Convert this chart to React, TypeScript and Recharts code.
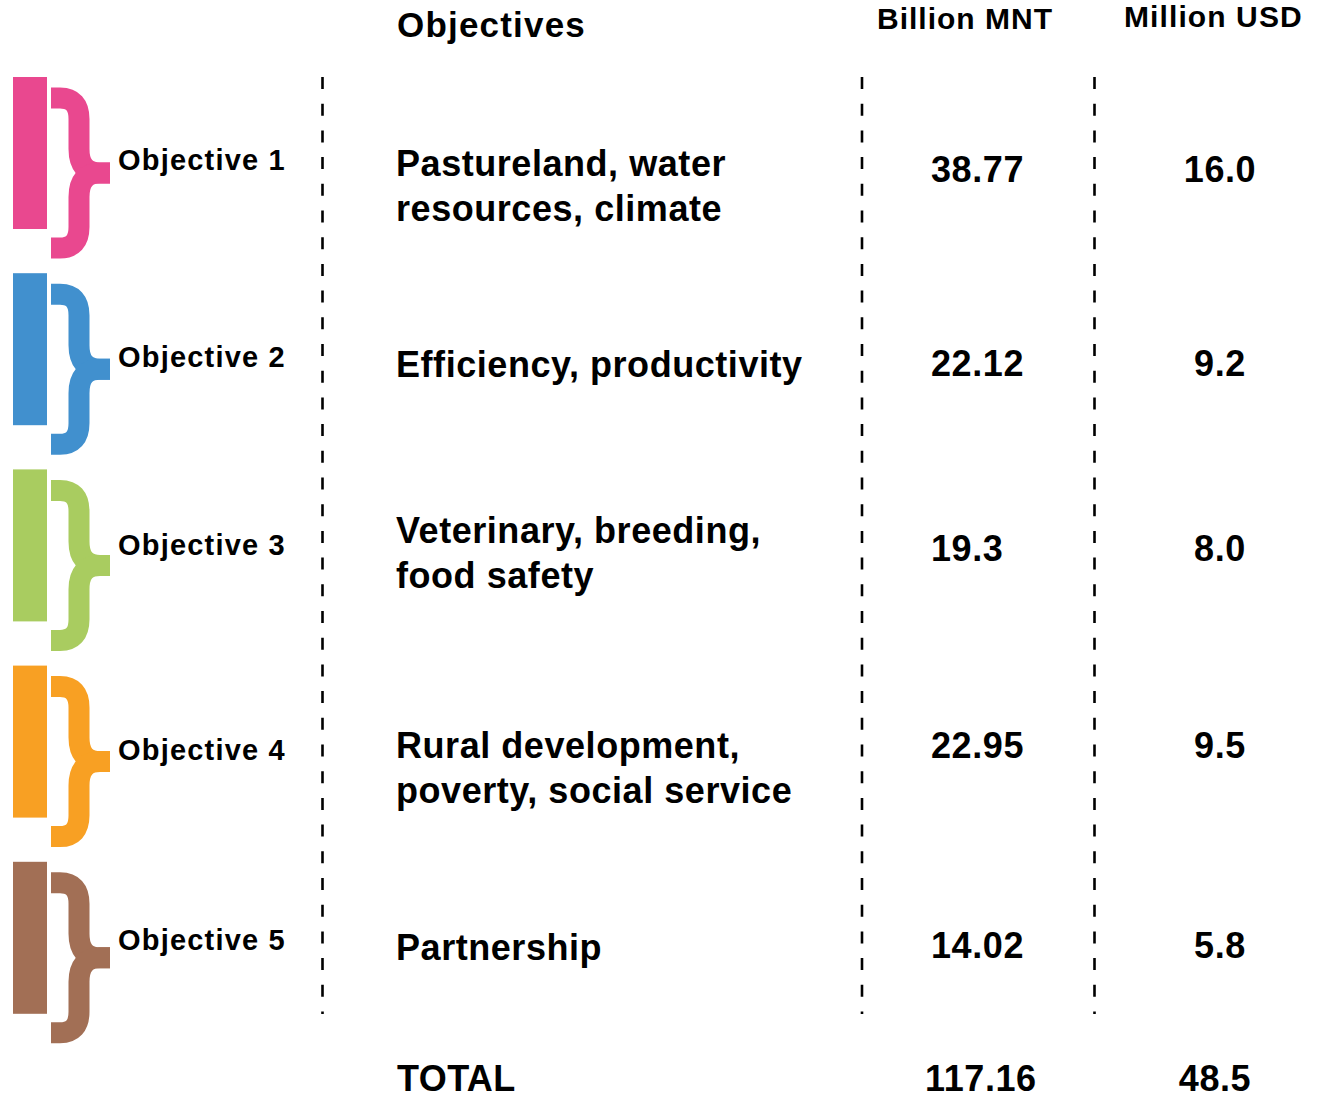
import React from 'react';
import { BarChart, Bar, XAxis, YAxis, Customized } from 'recharts';

// source figures (billion MNT / million USD per objective)
const objectives = ['Objective 1', 'Objective 2', 'Objective 3', 'Objective 4', 'Objective 5'];
const descriptions = [
  'Pastureland, water\nresources, climate',
  'Efficiency, productivity',
  'Veterinary, breeding,\nfood safety',
  'Rural development,\npoverty, social service',
  'Partnership',
];
const billionMnt = [38.77, 22.12, 19.3, 22.95, 14.02];
const millionUsd = [16.0, 9.2, 8.0, 9.5, 5.8];
const headers = ['Objectives', 'Billion MNT', 'Million USD'];
const totalLabel = 'TOTAL';

const palette = ['#E9488F', '#4190CE', '#A9CC60', '#F8A023', '#A26F55'];

// small per-row vertical nudges for the text, the original isn't laid out on a strict grid
const labelNudge = [0, 1, -7, 1, -5];
const descNudge = [13, -4, -12, 7, -10];
const valueNudge = [6, 4, -7, -7, -3];

const rows = objectives.map((objective, i) => ({
  objective,
  description: descriptions[i],
  mnt: billionMnt[i],
  usd: millionUsd[i],
}));

const totalMnt = Math.round(billionMnt.reduce((a, b) => a + b, 0) * 100) / 100;
const totalUsd = Math.round(millionUsd.reduce((a, b) => a + b, 0) * 10) / 10;

const FONT = '"Liberation Sans", Arial, sans-serif';
const COL_DESC = 396;
const COL_MNT = 931;
const COL_USD = 1220;
const SEPARATORS = [322.5, 862, 1094.5];

function Brace({ top, color }: { top: number; color: string }) {
  const t = top;
  const upper = `M51 ${t + 11} L60 ${t + 11} Q79 ${t + 11} 79 ${t + 32} L79 ${t + 62} Q79 ${t + 86} 100 ${t + 86} L110 ${t + 86}`;
  const lower = `M110 ${t + 86} L100 ${t + 86} Q79 ${t + 86} 79 ${t + 110} L79 ${t + 140} Q79 ${t + 161} 60 ${t + 161} L51 ${t + 161}`;
  return (
    <g fill="none" stroke={color} strokeWidth={21} strokeLinecap="butt">
      <path d={upper} />
      <path d={lower} />
    </g>
  );
}

function RowShape(props: any) {
  const { y, height, payload } = props;
  const idx = props.index ?? objectives.indexOf(payload.objective);
  const color = palette[idx % palette.length];
  const lines: string[] = String(payload.description).split('\n');
  const descMid = y + 95 + descNudge[idx];
  const lineGap = 45;
  const firstBase = descMid - ((lines.length - 1) * lineGap) / 2 + 13;
  const valueBase = y + 99 + valueNudge[idx];
  return (
    <g fontFamily={FONT} fontWeight="bold" fill="#000">
      <rect x={13} y={y} width={34} height={height} fill={color} />
      <Brace top={y + 10} color={color} />
      <text x={118} y={y + 93 + labelNudge[idx]} fontSize={29} letterSpacing={1.2}>
        {payload.objective}
      </text>
      <text x={COL_DESC} y={firstBase} fontSize={36} letterSpacing={0.55}>
        {lines.map((l, i) => (
          <tspan key={i} x={COL_DESC} y={firstBase + i * lineGap}>
            {l}
          </tspan>
        ))}
      </text>
      <text x={COL_MNT} y={valueBase} fontSize={36} letterSpacing={0.6}>
        {String(payload.mnt)}
      </text>
      <text x={COL_USD} y={valueBase} fontSize={36} letterSpacing={0.6} textAnchor="middle">
        {Number(payload.usd).toFixed(1)}
      </text>
    </g>
  );
}

function Overlay() {
  return (
    <g fontFamily={FONT} fontWeight="bold" fill="#000">
      {SEPARATORS.map((x) => (
        <line
          key={x}
          x1={x}
          x2={x}
          y1={77}
          y2={1014}
          stroke="#000"
          strokeWidth={2.6}
          strokeDasharray="12 14.7"
        />
      ))}
      <text x={397} y={37} fontSize={35} letterSpacing={1.2}>
        {headers[0]}
      </text>
      <text x={877} y={29} fontSize={30} letterSpacing={1}>
        {headers[1]}
      </text>
      <text x={1124} y={27} fontSize={30} letterSpacing={1.1}>
        {headers[2]}
      </text>
      <text x={397} y={1091} fontSize={36} letterSpacing={0.4}>
        {totalLabel}
      </text>
      <text x={925} y={1091} fontSize={36} letterSpacing={0.6}>
        {totalMnt.toFixed(2)}
      </text>
      <text x={COL_USD - 5} y={1091} fontSize={36} letterSpacing={0.6} textAnchor="middle">
        {totalUsd.toFixed(1)}
      </text>
    </g>
  );
}

export default function App() {
  return (
    <div style={{ position: 'absolute', left: 0, top: 0, background: '#fff' }}>
      <BarChart
        width={1321}
        height={1098}
        data={rows}
        layout="vertical"
        margin={{ top: 55, right: 0, bottom: 62, left: 0 }}
        barSize={152}
      >
        <XAxis type="number" hide domain={[0, 'dataMax']} />
        <YAxis type="category" dataKey="objective" hide />
        <Bar dataKey="mnt" shape={RowShape} isAnimationActive={false} />
        <Customized component={<Overlay />} />
      </BarChart>
    </div>
  );
}
